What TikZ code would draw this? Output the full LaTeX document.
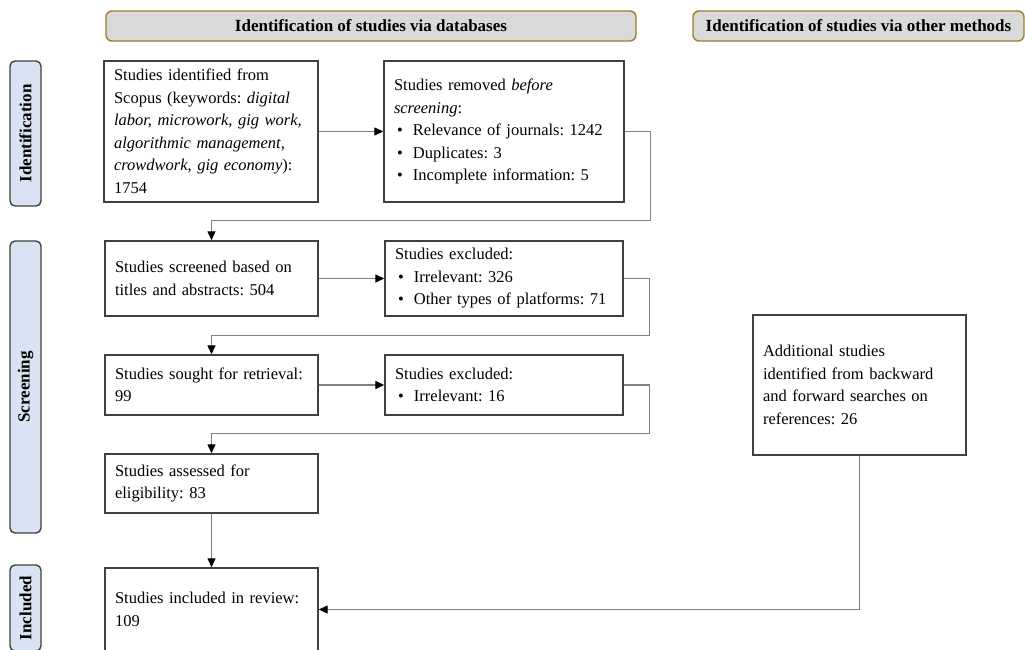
\documentclass[tikz,border=0pt]{standalone}
\usepackage{fontspec}
\setmainfont{Liberation Serif}
\usetikzlibrary{arrows.meta}

\definecolor{boxline}{HTML}{404040}
\definecolor{sidefill}{HTML}{DAE3F3}
\definecolor{headfill}{HTML}{D9D9D9}
\definecolor{headline}{HTML}{9E7E2E}
\definecolor{linkgray}{HTML}{7F7F7F}

\frenchspacing
\hyphenpenalty=10000
\newcommand{\itm}{\makebox[19pt][l]{\hspace{3pt}\textbullet}}

\tikzset{
  stage/.style = {draw = boxline, line width = 1.4pt, fill = white, align = left,
    inner xsep = 10pt, inner ysep = 0pt, font = \fontsize{16.5}{22.5}\selectfont},
  phase/.style = {draw = boxline, line width = 1.4pt, fill = sidefill, rounded corners = 5pt,
    rotate = 90, minimum height = 31pt, inner sep = 0pt,
    font = \bfseries\fontsize{17}{20}\selectfont},
  head/.style = {draw = headline, line width = 1.4pt, fill = headfill, rounded corners = 6pt,
    minimum height = 30pt, inner sep = 0pt, font = \bfseries\fontsize{17}{20}\selectfont},
  link/.style = {draw = linkgray, line width = 1.3pt,
    -{Triangle[length = 9pt, width = 8pt, black]}}
}

\begin{document}
\begin{tikzpicture}[x = 1pt, y = -1pt]
\useasboundingbox (0, 0) rectangle (1025, 650);

% column headers
\node[head, minimum width = 530pt] (dbhead) at (371, 26) {Identification of studies via databases};
\node[head, minimum width = 331pt] (otherhead) at (858.5, 26) {Identification of studies via other methods};

% phases
\node[phase, minimum width = 145pt] (identification) at (25.5, 133.5) {Identification};
\node[phase, minimum width = 292pt] (screening) at (25.5, 387) {Screening};
\node[phase, minimum width = 86pt] (included) at (25.5, 608) {Included};

% databases column
\node[stage, text width = 194pt, minimum height = 141pt] (identified) at (211, 131.5)
  {Studies identified from\\ Scopus (keywords: \textit{digital}\\ \textit{labor, microwork, gig work,}\\
   \textit{algorithmic management,}\\ \textit{crowdwork, gig economy}):\\ 1754};
\node[stage, text width = 220pt, minimum height = 141pt] (removed) at (504, 131.5)
  {Studies removed \textit{before}\\ \textit{screening}:\\ \itm Relevance of journals: 1242\\
   \itm Duplicates: 3\\ \itm Incomplete information: 5};
\node[stage, text width = 193pt, minimum height = 75pt] (screened) at (211.5, 278.5)
  {Studies screened based on\\ titles and abstracts: 504};
\node[stage, text width = 218pt, minimum height = 75pt] (excludedA) at (504, 278.5)
  {Studies excluded:\\ \itm Irrelevant: 326\\ \itm Other types of platforms: 71};
\node[stage, text width = 193pt, minimum height = 60pt] (sought) at (211.5, 385)
  {Studies sought for retrieval:\\ 99};
\node[stage, text width = 218pt, minimum height = 60pt] (excludedB) at (504, 385)
  {Studies excluded:\\ \itm Irrelevant: 16};
\node[stage, text width = 193pt, minimum height = 59pt] (assessed) at (211.5, 483.5)
  {Studies assessed for\\ eligibility: 83};
\node[stage, text width = 193pt, minimum height = 83pt] (review) at (211.5, 609.5)
  {Studies included in review:\\ 109};

% other methods column
\node[stage, text width = 193pt, minimum height = 140pt] (additional) at (859.5, 385)
  {Additional studies\\ identified from backward\\ and forward searches on\\ references: 26};

% connectors
\draw[link] (identified) -- (removed);
\draw[link] (removed.east) -- ++(26, 0) |- ([yshift = 20pt]screened.north) -- (screened.north);
\draw[link] (screened) -- (excludedA);
\draw[link] (excludedA.east) -- ++(26, 0) |- ([yshift = 19pt]sought.north) -- (sought.north);
\draw[link] (sought) -- (excludedB);
\draw[link] (excludedB.east) -- ++(26, 0) |- ([yshift = 20pt]assessed.north) -- (assessed.north);
\draw[link] (assessed) -- (review);
\draw[link] (additional.south) |- (review.east);
\end{tikzpicture}
\end{document}
